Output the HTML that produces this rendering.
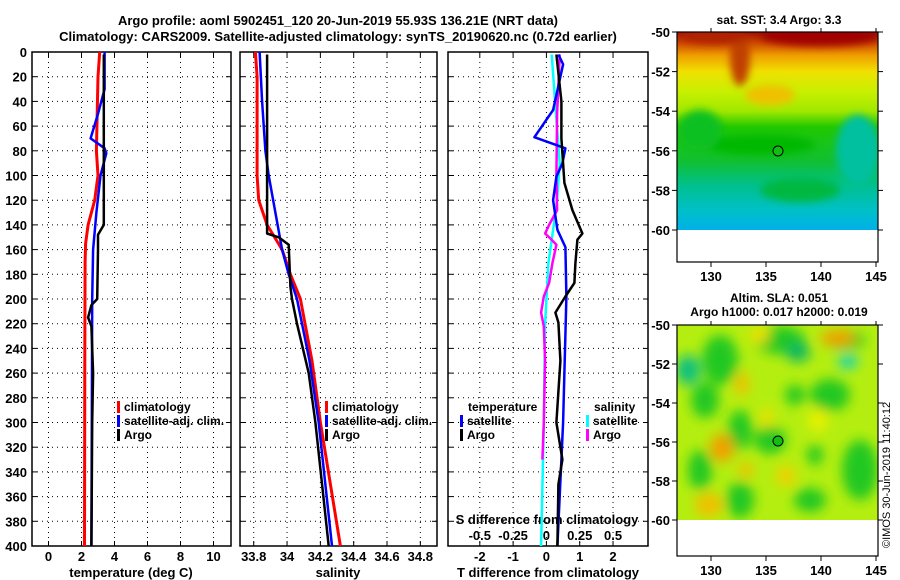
<!DOCTYPE html>
<html><head><meta charset="utf-8">
<style>
html,body{margin:0;padding:0;background:#fff;}
svg{display:block;font-family:"Liberation Sans",Arial,sans-serif;font-weight:bold;}
</style></head>
<body>
<svg id="fig" width="900" height="580" viewBox="0 0 900 580" xmlns="http://www.w3.org/2000/svg">
<defs>
<filter id="blur4" x="-20%" y="-20%" width="140%" height="140%"><feGaussianBlur stdDeviation="4"/></filter>
<filter id="blur6" x="-30%" y="-30%" width="160%" height="160%"><feGaussianBlur stdDeviation="6"/></filter>
<clipPath id="clipTop"><rect x="677" y="32" width="201" height="198"/></clipPath>
<clipPath id="clipBot"><rect x="677" y="325" width="201" height="195"/></clipPath>
</defs>
<text x="338" y="25" font-size="13" text-anchor="middle">Argo profile: aoml 5902451_120 20-Jun-2019 55.93S 136.21E (NRT data)</text>
<text x="338" y="41" font-size="13" text-anchor="middle">Climatology: CARS2009. Satellite-adjusted climatology: synTS_20190620.nc (0.72d earlier)</text>
<g id="plots"></g>
<g id="maps"></g>
<text transform="translate(890,548) rotate(-90)" font-size="11" font-weight="normal">©IMOS 30-Jun-2019 11:40:12</text>
</svg>
<script>
// ---------- data ----------
const depthTicks = [0,20,40,60,80,100,120,140,160,180,200,220,240,260,280,300,320,340,360,380,400];
const tempTicks = [0,2,4,6,8,10];
const salTicks = [33.8,34,34.2,34.4,34.6,34.8];
const salTickLabels = ["33.8","34","34.2","34.4","34.6","34.8"];
const tdiffTicks = [-2,-1,0,1,2];
const sdiffTicks = [-0.5,-0.25,0,0.25,0.5];
const sdiffTickLabels = ["-0.5","-0.25","0","0.25","0.5"];

const tempClimDepth = [0,20,50,80,100,120,140,155,170,250,400];
const tempClim = [3.1,3.0,2.95,2.9,3.0,2.8,2.4,2.25,2.22,2.2,2.18];
const tempSatDepth = [0,30,50,70,78,82,100,130,160,200,400];
const tempSat = [3.4,3.4,3.0,2.55,3.4,3.5,3.15,2.9,2.7,2.65,2.6];
const tempArgoDepth = [2,140,148,160,200,205,215,222,260,300,400];
const tempArgo = [3.35,3.35,3.0,3.0,2.95,2.6,2.4,2.6,2.7,2.65,2.6];

const salClimDepth = [0,20,100,120,140,160,180,200,250,300,400];
const salClim = [33.81,33.82,33.82,33.83,33.88,33.97,34.02,34.08,34.15,34.2,34.32];
const salSatDepth = [0,40,80,100,130,160,180,200,250,300,400];
const salSat = [33.835,33.85,33.87,33.89,33.93,33.97,34.01,34.06,34.135,34.19,34.27];
const salArgoDepth = [2,147,150,156,190,200,220,260,300,400];
const salArgo = [33.88,33.88,33.95,34.01,34.02,34.03,34.06,34.13,34.17,34.25];

const tdSatDepth = [2,10,47,69,78,90,101,120,144,158,198,300,400];
const tdSat = [0.36,0.5,0.2,-0.36,0.57,0.48,0.3,0.2,0.33,0.57,0.6,0.5,0.33];
const tdArgoDepth = [2,40,70,106,128,147,152,171,187,198,211,219,250,300,330,350,400];
const tdArgo = [0.3,0.45,0.45,0.54,0.78,1.08,0.93,0.87,0.84,0.57,0.27,0.36,0.42,0.3,0.48,0.36,0.33];
const sdSatDepth = [2,47,90,120,144,171,220,300,400];
const sdSat = [0.04,0.07,0.1,0.08,0.05,0.015,-0.01,-0.02,-0.04];
const sdArgoDepth = [2,50,100,128,140,147,151,156,171,187,198,211,222,250,300,330];
const sdArgo = [0.1,0.08,0.075,0.08,0.02,-0.01,0.03,0.075,0.045,0.02,-0.02,-0.04,-0.02,-0.01,-0.02,-0.03];

// ---------- geometry ----------
const NS = "http://www.w3.org/2000/svg";
const Y0 = 52, Y1 = 546;
const yD = d => Y0 + d*(Y1-Y0)/400;
const panels = [
  {x0:32,x1:231,v0:-1,v1:11.06,name:"temperature"},
  {x0:240,x1:437,v0:33.7176,v1:34.9,name:"salinity"},
  {x0:448,x1:648,v0:-2.955,v1:3.05,name:"difference"}
];
const xP = (p,v) => p.x0 + (v-p.v0)*(p.x1-p.x0)/(p.v1-p.v0);
const xS = v => xP(panels[2], v*4);

const plots = document.getElementById('plots');
function mk(tag, attrs, parent){
  const e = document.createElementNS(NS, tag);
  for (const k in attrs) e.setAttribute(k, attrs[k]);
  (parent||plots).appendChild(e);
  return e;
}
function txt(s, x, y, size, anchor, parent){
  const t = mk('text', {x:x, y:y, 'font-size':size, 'text-anchor':anchor||'start'}, parent);
  t.textContent = s;
  return t;
}
function line(depths, vals, fx, color, w, name){
  const pts = depths.map((d,i)=> fx(vals[i]).toFixed(1)+","+yD(d).toFixed(1)).join(" ");
  const pl = mk('polyline', {points:pts, fill:'none', stroke:color, 'stroke-width':w, 'stroke-linejoin':'round'});
  
  
}

panels.forEach((p,pi)=>{
  const g = mk('g', {});
  
  
  depthTicks.forEach(d=>{
    if (d>0 && d<400) mk('line',{x1:p.x0,x2:p.x1,y1:yD(d),y2:yD(d),stroke:'#000','stroke-width':1,'stroke-dasharray':'1,4'},g);
    mk('line',{x1:p.x0,x2:p.x0+5,y1:yD(d),y2:yD(d),stroke:'#000','stroke-width':1},g);
    mk('line',{x1:p.x1-5,x2:p.x1,y1:yD(d),y2:yD(d),stroke:'#000','stroke-width':1},g);
  });
  const vt = pi===0?tempTicks:(pi===1?salTicks:tdiffTicks);
  vt.forEach(v=>{
    const x = xP(p,v);
    mk('line',{x1:x,x2:x,y1:Y0,y2:Y1,stroke:'#000','stroke-width':1,'stroke-dasharray':'1,4'},g);
    mk('line',{x1:x,x2:x,y1:Y1-5,y2:Y1,stroke:'#000','stroke-width':1},g);
    mk('line',{x1:x,x2:x,y1:Y0,y2:Y0+5,stroke:'#000','stroke-width':1},g);
  });
  mk('rect',{x:p.x0,y:Y0,width:p.x1-p.x0,height:Y1-Y0,fill:'none',stroke:'#000','stroke-width':1.5},g);
});

depthTicks.forEach(d=>{
  const t = txt(String(d), 27, yD(d)+5, 13, 'end');
  
  
});
tempTicks.forEach(v=>{ txt(String(v), xP(panels[0],v), 561, 13, 'middle'); });
salTicks.forEach((v,i)=>{ txt(salTickLabels[i], xP(panels[1],v), 561, 13, 'middle'); });
tdiffTicks.forEach(v=>{ txt(String(v), xP(panels[2],v), 561, 13, 'middle'); });
const xt1 = txt("temperature (deg C)", 131, 577, 13, 'middle');
 
const xt2 = txt("salinity", 338, 577, 13, 'middle');
 
const xt3 = txt("T difference from climatology", 548, 577, 13, 'middle');
 
const st = txt("S difference from climatology", 547, 524, 13, 'middle');
 
sdiffTicks.forEach((v,i)=>{ txt(sdiffTickLabels[i], xS(v), 540, 13, 'middle'); });

line(tempClimDepth, tempClim, v=>xP(panels[0],v), '#ff0000', 3, 'temp-climatology-line');
line(tempSatDepth, tempSat, v=>xP(panels[0],v), '#0000ff', 2.5, 'temp-satellite-line');
line(tempArgoDepth, tempArgo, v=>xP(panels[0],v), '#000', 2.5, 'temp-argo-line');
line(salClimDepth, salClim, v=>xP(panels[1],v), '#ff0000', 3, 'sal-climatology-line');
line(salSatDepth, salSat, v=>xP(panels[1],v), '#0000ff', 2.5, 'sal-satellite-line');
line(salArgoDepth, salArgo, v=>xP(panels[1],v), '#000', 2.5, 'sal-argo-line');
line(sdSatDepth, sdSat, xS, '#00ffff', 2.5, 'sdiff-satellite-line');
line(sdArgoDepth, sdArgo, xS, '#ff00ff', 2.5, 'sdiff-argo-line');
line(tdSatDepth, tdSat, v=>xP(panels[2],v), '#0000ff', 2.5, 'tdiff-satellite-line');
line(tdArgoDepth, tdArgo, v=>xP(panels[2],v), '#000', 2.5, 'tdiff-argo-line');

function legend(x, y, color, label, name){
  const g = mk('g',{});
  
  
  if (color) mk('rect',{x:x,y:y-10,width:3,height:12,fill:color},g);
  txt(label, x+7, y, 12, 'start', g);
}
legend(117,411,'#ff0000','climatology','legend-climatology');
legend(117,425,'#0000ff','satellite-adj. clim.','legend-satellite-adj');
legend(117,439,'#000','Argo','legend-argo');
legend(325,411,'#ff0000','climatology','legend-sal-climatology');
legend(325,425,'#0000ff','satellite-adj. clim.','legend-sal-satellite-adj');
legend(325,439,'#000','Argo','legend-sal-argo');
legend(461,411,null,'temperature','legend-temperature-heading');
legend(460,425,'#0000ff','satellite','legend-tdiff-satellite');
legend(460,439,'#000','Argo','legend-tdiff-argo');
legend(587,411,null,'salinity','legend-salinity-heading');
legend(586,425,'#00ffff','satellite','legend-sdiff-satellite');
legend(586,439,'#ff00ff','Argo','legend-sdiff-argo');

// ---------- maps ----------
const maps = document.getElementById('maps');
function mm(tag, attrs, parent){
  const e = document.createElementNS(NS, tag);
  for (const k in attrs) e.setAttribute(k, attrs[k]);
  (parent||maps).appendChild(e);
  return e;
}
const lonTicks = [130,135,140,145];
const latTicks = [-50,-52,-54,-56,-58,-60];
const mapX = lon => 711 + (lon-130)*11;
function mapAxes(top, y50, y60, bottom, name, titleLines){
  const yL = lat => y50 + (lat+50)*(y60-y50)/(-10);
  const g = mm('g',{});
  
  
  mm('rect',{x:677,y:top,width:201,height:bottom-top,fill:'none',stroke:'#000','stroke-width':1.2},g);
  latTicks.forEach(l=>{
    const y = yL(l);
    mm('line',{x1:677,x2:672,y1:y,y2:y,stroke:'#000'},g);
    mm('line',{x1:878,x2:883,y1:y,y2:y,stroke:'#000'},g);
    const t = mm('text',{x:670,y:y+5,'font-size':13,'text-anchor':'end'},g); t.textContent = String(l);
  });
  lonTicks.forEach(l=>{
    const x = mapX(l);
    mm('line',{x1:x,x2:x,y1:bottom,y2:bottom+5,stroke:'#000'},g);
    mm('line',{x1:x,x2:x,y1:top,y2:top-4,stroke:'#000'},g);
    const t = mm('text',{x:x,y:bottom+19,'font-size':13,'text-anchor':'middle'},g); t.textContent = String(l);
  });
  titleLines.forEach(s=>{
    const t = mm('text',{x:s[1],y:s[2],'font-size':12,'text-anchor':'middle'},g); t.textContent = s[0];
  });
  return yL;
}

const sst = mm('g',{'clip-path':'url(#clipTop)'});


const sstGrad = mm('linearGradient',{id:'sstg',x1:0,y1:0,x2:0,y2:1},document.querySelector('defs'));
[[0,'#a01000'],[0.06,'#d05000'],[0.12,'#f0a000'],[0.2,'#f0e000'],[0.3,'#c8f000'],[0.4,'#a0e800'],[0.48,'#20c800'],[0.65,'#10c030'],[0.78,'#00c090'],[0.9,'#00c0c8'],[1,'#00b0e8']]
  .forEach(s=>mm('stop',{offset:s[0],'stop-color':s[1]},sstGrad));
mm('rect',{x:677,y:32,width:201,height:198,fill:'url(#sstg)'},sst);
const sf = mm('g',{filter:'url(#blur4)'},sst);
mm('ellipse',{cx:740,cy:58,rx:10,ry:28,fill:'#c04000'},sf);
mm('ellipse',{cx:820,cy:36,rx:60,ry:10,fill:'#a00000'},sf);
mm('ellipse',{cx:715,cy:36,rx:35,ry:8,fill:'#b02000'},sf);
mm('ellipse',{cx:770,cy:95,rx:25,ry:10,fill:'#f0c000'},sf);
mm('ellipse',{cx:858,cy:150,rx:22,ry:35,fill:'#00c0a0'},sf);
mm('ellipse',{cx:760,cy:145,rx:55,ry:10,fill:'#00b800'},sf);
mm('ellipse',{cx:700,cy:130,rx:22,ry:20,fill:'#10c020'},sf);
mm('ellipse',{cx:800,cy:190,rx:40,ry:12,fill:'#00b840'},sf);
mm('rect',{x:677,y:230,width:201,height:32,fill:'#fff'},maps);
mapAxes(32,32,230,262,'sst-map',[["sat. SST: 3.4 Argo: 3.3",779,24]]);
const c1 = mm('circle',{cx:778,cy:151,r:5,fill:'#10c010',stroke:'#000','stroke-width':1});
 

const sla = mm('g',{'clip-path':'url(#clipBot)'});


mm('rect',{x:677,y:325,width:201,height:195,fill:'#b4ee10'},sla);
const bf = mm('g',{filter:'url(#blur6)'},sla);
[[720,360,18,25],[780,340,25,14],[705,400,14,18],[740,430,12,20],[770,440,16,14],[740,500,14,18],[795,395,10,10],[830,395,20,16],[860,470,18,30],[810,500,16,12],[845,340,20,10],[700,470,12,20],[815,455,8,10]]
  .forEach(e=>mm('ellipse',{cx:e[0],cy:e[1],rx:e[2],ry:e[3],fill:'#20c820'},bf));
[[688,370,12,15,'#10c080'],[848,362,10,6,'#00d0d0'],[798,352,12,10,'#10b860']]
  .forEach(e=>mm('ellipse',{cx:e[0],cy:e[1],rx:e[2],ry:e[3],fill:e[4]},bf));
[[722,448,12,14,'#f0a000'],[838,338,18,8,'#f0a000'],[742,384,7,12,'#f0c000'],[709,505,14,12,'#f0c000'],[767,418,6,10,'#f0e000'],[786,476,10,10,'#f0d000'],[746,470,7,8,'#f0c000'],[818,420,10,12,'#e8f000'],[760,335,10,8,'#f0e000']]
  .forEach(e=>mm('ellipse',{cx:e[0],cy:e[1],rx:e[2],ry:e[3],fill:e[4]},bf));
mm('rect',{x:677,y:520,width:201,height:36,fill:'#fff'},maps);
mapAxes(325,325,520,556,'sla-map',[["Altim. SLA: 0.051",779,302],["Argo h1000: 0.017 h2000: 0.019",779,316]]);
const c2 = mm('circle',{cx:778,cy:441,r:5,fill:'#10c010',stroke:'#000','stroke-width':1});
 
</script>
</body></html>
